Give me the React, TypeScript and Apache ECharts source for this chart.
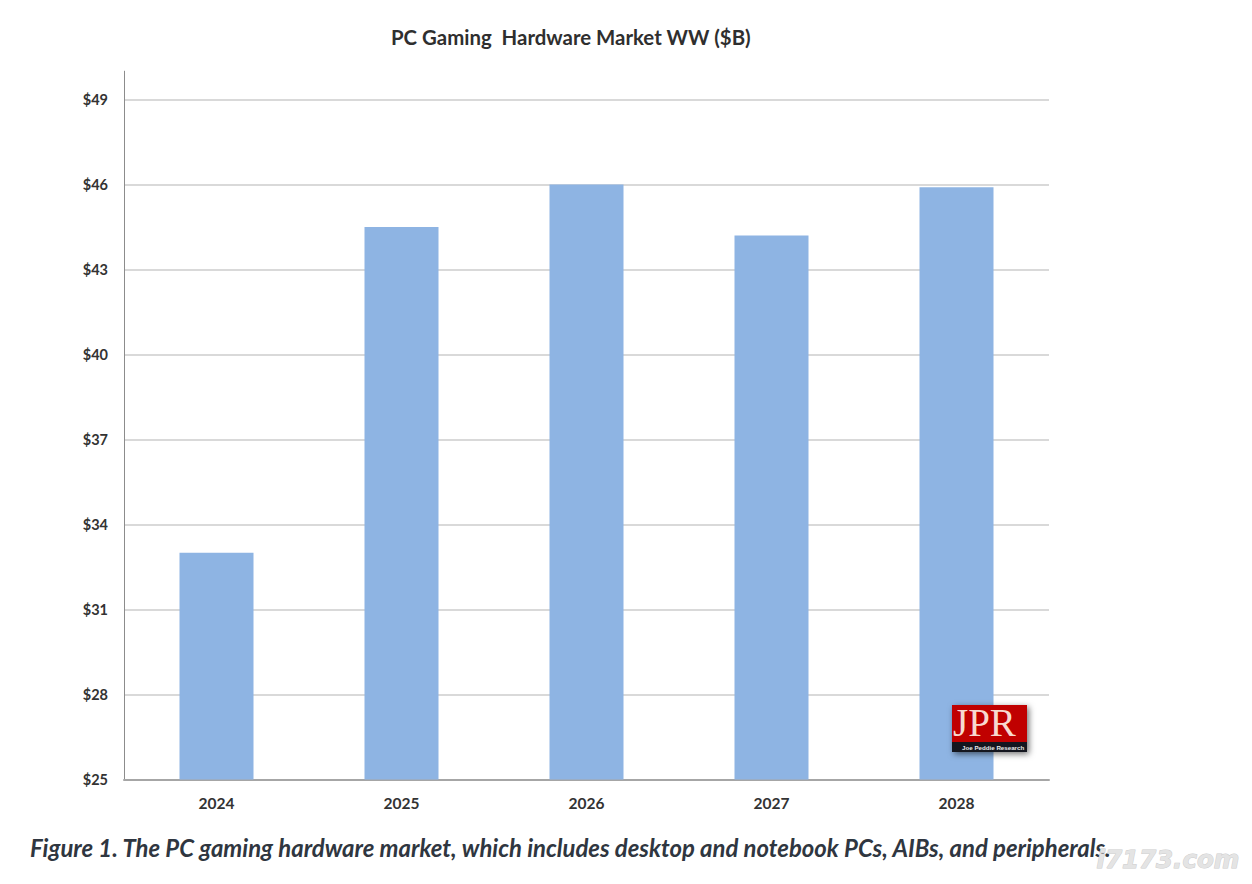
import React, { useEffect, useRef } from "react";
import * as echarts from "echarts";

const categories = ["2024", "2025", "2026", "2027", "2028"];
const marketValues = [33, 44.5, 46, 44.2, 45.9];
const tickValues = [25, 28, 31, 34, 37, 40, 43, 46, 49];
const titleText = "PC Gaming  Hardware Market WW ($B)";
const captionText = "Figure 1. The PC gaming hardware market, which includes desktop and notebook PCs, AIBs, and peripherals.";
const watermarkText = "i7173.com";
const logoText = "JPR";
const logoSubText = "Joe Peddie Research";

export default function App() {
  const ref = useRef<HTMLDivElement>(null);
  useEffect(() => {
    const chart = echarts.init(ref.current!, null, { renderer: "svg" });
    chart.setOption({
      animation: false,
      backgroundColor: "#ffffff",
      title: {
        text: titleText,
        left: 386,
        top: 22,
        textStyle: { fontFamily: "Lato", fontWeight: 700, fontSize: 20.4, color: "#2f2f2f" },
      },
      grid: { left: 124, right: 203, top: 71.2, bottom: 104.5, containLabel: false },
      xAxis: {
        type: "category",
        data: categories,
        axisLine: { lineStyle: { color: "#a6a6a6", width: 2 } },
        axisTick: { show: false },
        axisLabel: { margin: 15, fontFamily: "Lato", fontWeight: 700, fontSize: 15.5, color: "#333333" },
      },
      yAxis: {
        type: "value",
        min: 25,
        max: 50,
        axisLine: { show: true, lineStyle: { color: "#8c8c8c", width: 1 } },
        axisTick: { show: false, customValues: tickValues },
        axisLabel: {
          customValues: tickValues,
          margin: 16,
          fontFamily: "Lato",
          fontWeight: 700,
          fontSize: 14.5,
          color: "#333333",
          formatter: (v: number) => "$" + v,
        },
        splitLine: { show: true, lineStyle: { color: "#d9d9d9", width: 2 } },
      },
      series: [
        {
          type: "bar",
          data: marketValues,
          barWidth: "40%",
          itemStyle: { color: "#8eb4e3" },
        },
      ],
      graphic: [
        {
          type: "text",
          z: 10,
          left: 30,
          top: 835,
          style: {
            text: captionText,
            font: "italic 700 23.9px Lato",
            fill: "#2f3640",
          },
        },
        {
          type: "text",
          z: 11,
          left: 1096,
          top: 846,
          style: {
            text: watermarkText,
            font: "italic 700 24.5px 'DejaVu Sans'",
            fill: "#e4e4e4",
            stroke: "#cccccc",
            lineWidth: 1,
          },
        },
        {
          type: "rect",
          z: 10,
          shape: { x: 952, y: 705, width: 75, height: 47 },
          style: { fill: "#c00000", shadowBlur: 6, shadowColor: "rgba(0,0,0,0.55)", shadowOffsetX: 2, shadowOffsetY: 2 },
        },
        {
          type: "rect",
          z: 11,
          shape: { x: 952, y: 742, width: 75, height: 10 },
          style: { fill: "#14161f" },
        },
        {
          type: "text",
          z: 12,
          x: 953,
          y: 703,
          style: {
            text: logoText,
            font: "400 39px 'Liberation Serif'",
            fill: "#f7d9d0",
          },
        },
        {
          type: "text",
          z: 12,
          x: 962,
          y: 744,
          style: {
            text: logoSubText,
            font: "700 6.2px 'Liberation Sans'",
            fill: "#e8e8e8",
          },
        },
      ],
    });
    return () => chart.dispose();
  }, []);
  return (
    <div
      ref={ref}
      style={{ position: "absolute", left: 0, top: 0, width: 1252, height: 884 }}
    />
  );
}
